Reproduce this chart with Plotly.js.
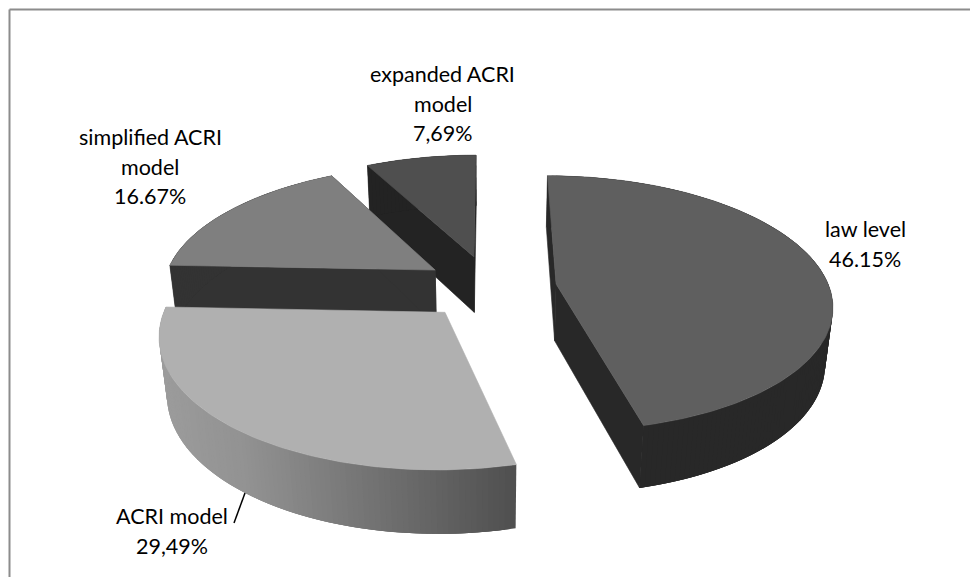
<!DOCTYPE html>
<html>
<head>
<meta charset="utf-8">
<script src="https://cdn.plot.ly/plotly-3.0.1.min.js"></script>
<style>html,body{margin:0;padding:0;background:#fff}#chart{width:971px;height:577px}</style>
</head>
<body>
<div id="chart"></div>
<script>
// ---- data ----
const categories = ["law level", "ACRI model", "simplified ACRI model", "expanded ACRI model"];
const shares = [46.15, 29.49, 16.67, 7.69];
const shareLabels = ["46.15%", "29,49%", "16.67%", "7,69%"];
const labelLines = [["law level"], ["ACRI model"], ["simplified ACRI", "model"], ["expanded ACRI", "model"]];

// ---- styling and layout ----
const topColors = ["#5f5f5f", "#b0b0b0", "#7f7f7f", "#4f4f4f"];
const wallColors = ["#282828", "#9a9a9a", "#333333", "#232323"];
const pull = [[0.243, 0], [-0.16, -0.22], [-0.205, 0.114], [-0.061, 0.225]];
const labelAnchor = [[865, 229], [172, 516], [150, 137], [442.5, 74]];
const lineGap = 29.5;
const paintOrder = [3, 2, 0, 1];
const cam = {cx: 490, cy: 284, S: 272, b: 124.5, q: 0.15, h: 58, dz: 0.023};

function project(X, Y, low) {
  const den = 1 + cam.q * Y + (low ? cam.dz : 0);
  return [cam.cx + cam.S * X / den, cam.cy - (cam.b * Y - (low ? cam.h : 0)) / den];
}
function poly(points, color, width) {
  return {type: "scatter", mode: "lines", x: points.map(p => p[0]), y: points.map(p => p[1]),
    fill: "toself", fillcolor: color, line: {color: color, width: width === undefined ? 0.6 : width}, hoverinfo: "skip", showlegend: false};
}
function mix(a, b, t) { return Math.round(a + (b - a) * t); }
function gray(v) { return "rgb(" + v + "," + v + "," + v + ")"; }

const total = shares.reduce((a, b) => a + b, 0);
const starts = [];
shares.reduce((acc, v, i) => { starts[i] = acc; return acc + v; }, 0);

const traces = [];
paintOrder.forEach(i => {
  const a0 = starts[i] / total * 2 * Math.PI, a1 = (starts[i] + shares[i]) / total * 2 * Math.PI;
  const steps = Math.max(8, Math.round((a1 - a0) / (Math.PI / 180)));
  const [ox, oy] = pull[i];
  const rim = [];
  for (let k = 0; k <= steps; k++) {
    const a = a0 + (a1 - a0) * k / steps;
    rim.push([ox + Math.sin(a), oy + Math.cos(a)]);
  }
  const apexTop = project(ox, oy, false), apexLow = project(ox, oy, true);
  const rimTop = rim.map(p => project(p[0], p[1], false));
  const rimLow = rim.map(p => project(p[0], p[1], true));
  // radial walls (the light slice shows none of its own)
  if (i !== 1) {
    traces.push(poly([apexTop, rimTop[0], rimLow[0], apexLow, apexTop], wallColors[i]));
    traces.push(poly([apexTop, rimTop[steps], rimLow[steps], apexLow, apexTop], wallColors[i]));
  }
  // rim wall: overlapping bands, so the fold at the silhouette stays filled
  for (let k = 0; k < steps; k++) {
    const j = Math.min(steps, k + 3);
    let col = wallColors[i];
    if (i === 1) {
      const t = Math.min(1, Math.max(0, (rimLow[k][0] - 165) / 350));
      col = gray(t < 0.25 ? mix(156, 146, t / 0.25) : mix(146, 80, (t - 0.25) / 0.75));
    }
    const seg = [];
    for (let m = k; m <= j; m++) seg.push(rimTop[m]);
    for (let m = j; m >= k; m--) seg.push(rimLow[m]);
    traces.push(poly(seg, col, 0));
  }
  // top face
  traces.push(poly([apexTop].concat(rimTop, [apexTop]), topColors[i]));
});

const annotations = [];
categories.forEach((c, i) => {
  const lines = labelLines[i].concat([shareLabels[i]]);
  lines.forEach((t, n) => annotations.push({
    x: labelAnchor[i][0], y: labelAnchor[i][1] + n * lineGap, xref: "x", yref: "y", text: t,
    showarrow: false, xanchor: "center", yanchor: "middle",
    font: {family: "Lato, Carlito, sans-serif", size: 21.5, color: "#000000"}
  }));
});

const layout = {
  width: 971, height: 577, margin: {l: 0, r: 0, t: 0, b: 0, pad: 0},
  paper_bgcolor: "#ffffff", plot_bgcolor: "#ffffff", showlegend: false,
  xaxis: {range: [0, 971], visible: false, fixedrange: true},
  yaxis: {range: [577, 0], visible: false, fixedrange: true},
  annotations: annotations,
  shapes: [
    {type: "line", xref: "x", yref: "y", x0: 9.5, x1: 9.5, y0: 9.5, y1: 577, line: {color: "#8c8c8c", width: 2}},
    {type: "line", xref: "x", yref: "y", x0: 9.5, x1: 970, y0: 9.5, y1: 9.5, line: {color: "#8c8c8c", width: 2}},
    {type: "line", xref: "x", yref: "y", x0: 234, x1: 245, y0: 523, y1: 493, line: {color: "#000000", width: 1.5}}
  ]
};
Plotly.newPlot("chart", traces, layout, {displayModeBar: false, staticPlot: true});
</script>
</body>
</html>
